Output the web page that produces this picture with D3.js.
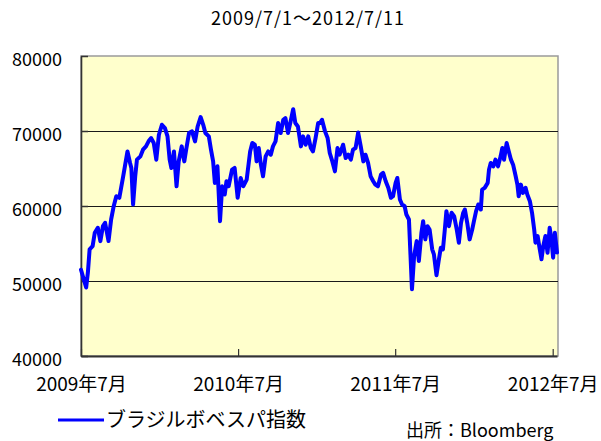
<!DOCTYPE html>
<html>
<head>
<meta charset="utf-8">
<script src="https://d3js.org/d3.v7.min.js"></script>
<style>
  body { margin: 0; background: #fff; }
  text { font-family: "Noto Sans CJK JP", sans-serif; fill: #000; }
</style>
</head>
<body>
<div id="chart"></div>
<script>
// Bovespa index, 2009/7/1 - 2012/7/11
var dates = [
  "2009-07-01","2009-07-07","2009-07-13","2009-07-17","2009-07-21","2009-07-28","2009-08-02","2009-08-09",
  "2009-08-15","2009-08-21","2009-08-26","2009-09-03","2009-09-09","2009-09-15","2009-09-21","2009-09-28",
  "2009-10-07","2009-10-11","2009-10-17","2009-10-23","2009-10-26","2009-10-30","2009-11-04","2009-11-08",
  "2009-11-16","2009-11-22","2009-11-29","2009-12-05","2009-12-11","2009-12-17","2009-12-23","2009-12-29",
  "2010-01-05","2010-01-12","2010-01-18","2010-01-23","2010-01-27","2010-02-02","2010-02-08","2010-02-13",
  "2010-02-20","2010-02-26","2010-03-03","2010-03-09","2010-03-16","2010-03-23","2010-03-29","2010-04-05",
  "2010-04-11","2010-04-16","2010-04-24","2010-04-29","2010-05-04","2010-05-08","2010-05-14","2010-05-20",
  "2010-05-25","2010-05-31","2010-06-04","2010-06-09","2010-06-17","2010-06-23","2010-06-30","2010-07-07",
  "2010-07-13","2010-07-21","2010-07-29","2010-08-03","2010-08-09","2010-08-13","2010-08-18","2010-08-23",
  "2010-08-28","2010-09-03","2010-09-09","2010-09-15","2010-09-20","2010-09-26","2010-10-02","2010-10-08",
  "2010-10-14","2010-10-19","2010-10-25","2010-10-31","2010-11-06","2010-11-11","2010-11-17","2010-11-24",
  "2010-11-29","2010-12-05","2010-12-11","2010-12-17","2010-12-22","2010-12-28","2011-01-03","2011-01-07",
  "2011-01-12","2011-01-19","2011-01-25","2011-01-30","2011-02-05","2011-02-11","2011-02-17","2011-02-22",
  "2011-03-02","2011-03-08","2011-03-14","2011-03-20","2011-03-25","2011-03-31","2011-04-06","2011-04-12",
  "2011-04-18","2011-04-23","2011-04-29","2011-05-05","2011-05-11","2011-05-16","2011-05-22","2011-05-29",
  "2011-06-03","2011-06-09","2011-06-15","2011-06-21","2011-06-26","2011-07-02","2011-07-06","2011-07-12",
  "2011-07-17","2011-07-23","2011-07-27","2011-08-02","2011-08-06","2011-08-09","2011-08-14","2011-08-20",
  "2011-08-25","2011-08-31","2011-09-04","2011-09-09","2011-09-14","2011-09-19","2011-09-25","2011-09-29",
  "2011-10-05","2011-10-10","2011-10-15","2011-10-20","2011-10-24","2011-10-28","2011-11-03","2011-11-09",
  "2011-11-15","2011-11-21","2011-11-26","2011-12-01","2011-12-06","2011-12-10","2011-12-16","2011-12-21",
  "2011-12-27","2011-12-31","2012-01-05","2012-01-10","2012-01-16","2012-01-19","2012-01-25","2012-02-01",
  "2012-02-04","2012-02-08","2012-02-14","2012-02-19","2012-02-25","2012-03-02","2012-03-06","2012-03-10",
  "2012-03-16","2012-03-21","2012-03-26","2012-03-31","2012-04-06","2012-04-10","2012-04-13","2012-04-18",
  "2012-04-23","2012-04-29","2012-05-03","2012-05-09","2012-05-14","2012-05-19","2012-05-22","2012-05-27",
  "2012-06-01","2012-06-05","2012-06-09","2012-06-14","2012-06-19","2012-06-24","2012-06-28","2012-07-02",
  "2012-07-06","2012-07-11"
];
var values = [
  51500,50300,49130,51120,54220,54650,56430,57100,
  55320,57310,57760,55320,58200,59970,61300,61090,
  63960,65290,67280,65740,65070,60200,63960,66180,
  66620,67510,67950,68620,69060,68400,66180,69500,
  70830,70390,69280,66180,65070,67280,62630,65950,
  67950,65950,67730,69730,69950,68620,70600,71850,
  70830,69730,69280,67510,65950,63080,65290,57980,
  62630,61530,63300,62630,64850,65070,61090,63740,
  62630,63520,67280,68400,68170,65950,67730,65510,
  63960,66620,67280,66840,67950,68620,71060,69730,
  71500,71720,69730,71270,72910,71060,70610,67950,
  69280,68170,69280,67730,67280,69060,71060,71060,
  71500,69950,69060,67070,65950,64620,67730,66840,
  68170,66400,66840,66180,67510,67730,69800,67950,
  65950,66840,65740,63960,63300,62850,62630,64180,
  64410,63300,62420,61090,61300,63080,63740,60860,
  60200,59970,58870,58200,52890,48900,53320,55320,
  52660,56430,57980,55550,57310,56870,54220,53550,
  50760,52660,54440,54220,56650,59310,57310,59090,
  58650,56870,55110,57760,59090,59530,57540,55550,
  56870,57980,59310,60200,59530,62190,62420,63080,
  64850,65740,65290,66180,65290,66620,67730,66180,
  68400,67280,66180,65510,63960,62850,61300,62850,
  61750,62420,61530,60640,59090,56870,55110,55990,
  54220,52890,54650,55990,53770,57100,55550,53110,
  56430,53800
];
var yTicks = [40000, 50000, 60000, 70000, 80000];
var gridValues = [50000, 60000, 70000];
var xTickDates = ["2009-07-01", "2010-07-01", "2011-07-01", "2012-07-01"];
var period = ["2009-07-01", "2012-07-11"];
var title = "2009/7/1～2012/7/11";
var seriesName = "ブラジルボベスパ指数";
var source = "出所：Bloomberg";

var W = 601, H = 441;
var plot = { left: 81, top: 56, right: 558, bottom: 356 };
var parse = d3.timeParse("%Y-%m-%d");

var svg = d3.select("#chart").append("svg")
    .attr("width", W)
    .attr("height", H);

var x = d3.scaleTime()
    .domain(period.map(parse))
    .range([plot.left, 557]);
var y = d3.scaleLinear()
    .domain([40000, 80000])
    .range([plot.bottom, plot.top]);

// title
svg.append("text")
    .attr("x", 308)
    .attr("y", 25)
    .attr("text-anchor", "middle")
    .style("font-size", "18px")
    .style("letter-spacing", "1px")
    .text(title);

// plot background + gray frame
svg.append("rect")
    .attr("x", plot.left)
    .attr("y", plot.top)
    .attr("width", plot.right - plot.left)
    .attr("height", plot.bottom - plot.top)
    .attr("fill", "#ffffcc")
    .attr("stroke", "#9a9a9a")
    .attr("stroke-width", 1.5);

// horizontal grid lines
svg.selectAll(".grid")
    .data(gridValues)
    .enter().append("line")
    .attr("x1", plot.left)
    .attr("x2", plot.right)
    .attr("y1", function(d) { return Math.round(y(d)) + 0.5; })
    .attr("y2", function(d) { return Math.round(y(d)) + 0.5; })
    .attr("stroke", "#1a1a1a")
    .attr("stroke-width", 1);

// y axis
var yAxis = svg.append("g")
    .attr("transform", "translate(" + plot.left + ",0)")
    .call(d3.axisLeft(y).tickValues(yTicks).tickSizeInner(-7).tickSizeOuter(0).tickPadding(19)
        .tickFormat(d3.format("d")));
yAxis.select(".domain").attr("stroke", "#333").attr("stroke-width", 1.6);
yAxis.selectAll(".tick line").attr("stroke", "#333").attr("stroke-width", 1.5);
yAxis.selectAll("text")
    .style("font-size", "18px")
    .attr("dy", "0.55em");

// x axis
var xAxis = svg.append("g")
    .attr("transform", "translate(0," + plot.bottom + ")")
    .call(d3.axisBottom(x).tickValues(xTickDates.map(parse)).tickSizeInner(-7).tickSizeOuter(0).tickPadding(22)
        .tickFormat(d3.timeFormat("%Y年%-m月")));
xAxis.select(".domain").attr("stroke", "#333").attr("stroke-width", 2);
xAxis.selectAll(".tick line").attr("stroke", "#333").attr("stroke-width", 1.2);
xAxis.selectAll("text")
    .style("font-size", "19px");

// index line
var line = d3.line()
    .x(function(d, i) { return x(parse(dates[i])); })
    .y(function(d) { return y(d); });

svg.append("path")
    .datum(values)
    .attr("fill", "none")
    .attr("stroke", "#0000ff")
    .attr("stroke-width", 4)
    .attr("stroke-linejoin", "round")
    .attr("stroke-linecap", "round")
    .attr("d", line);

// legend
svg.append("line")
    .attr("x1", 58).attr("x2", 104)
    .attr("y1", 420).attr("y2", 420)
    .attr("stroke", "#0000ff")
    .attr("stroke-width", 3);
svg.append("text")
    .attr("x", 106)
    .attr("y", 427)
    .style("font-size", "20px")
    .text(seriesName);

// source note
svg.append("text")
    .attr("x", 406)
    .attr("y", 437)
    .style("font-size", "18px")
    .text(source);
</script>
</body>
</html>
